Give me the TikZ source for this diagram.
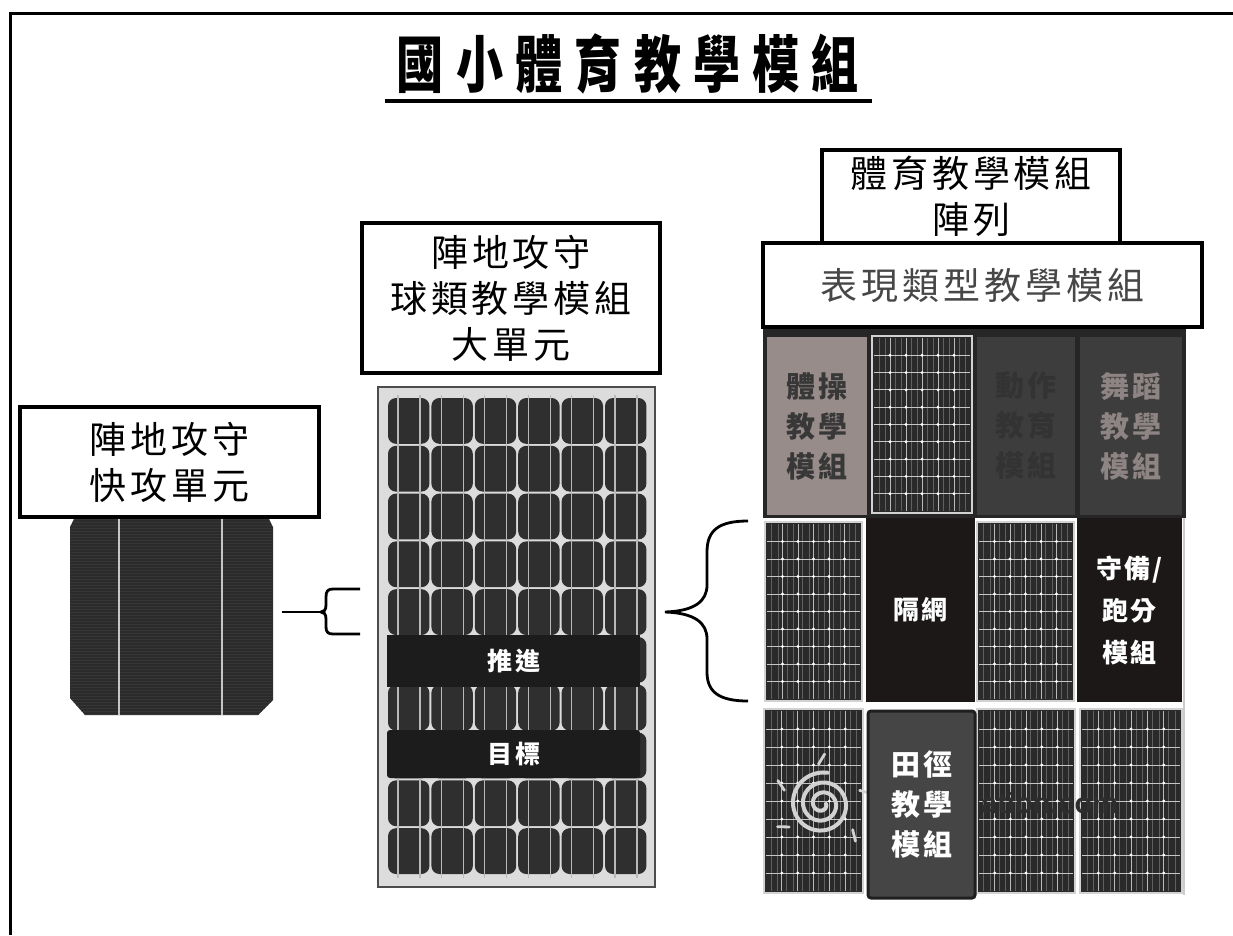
\documentclass[tikz,border=0pt]{standalone}
\usepackage{fontspec}
\usepackage{graphicx}
\newfontfamily\cjk{Noto Sans CJK TC}
\newfontfamily\wmfont{Liberation Sans}
% spread the characters of a short string by a fixed gap
\makeatletter
\newcommand\spaced[2]{\def\spaced@gap{\hspace{#1}}\spaced@go#2\@nil}
\def\spaced@go#1#2\@nil{#1\ifx\relax#2\relax\else\spaced@gap\spaced@go#2\@nil\fi}
\makeatother
\definecolor{cellfill}{HTML}{2B2B2B}
\definecolor{cellline}{HTML}{363636}
\definecolor{panelframe}{HTML}{DCDCDC}
\definecolor{pcellfill}{HTML}{2F2F2F}
\definecolor{barfill}{HTML}{1C1C1C}
\definecolor{tanfill}{HTML}{978C89}
\definecolor{darkfill}{HTML}{3D3D3D}
\definecolor{blackfill}{HTML}{1C1818}
\definecolor{trackfill}{HTML}{454545}
\definecolor{minibg}{HTML}{2A2A2A}
\definecolor{dancetext}{HTML}{8E8484}

% small solar panel tile: x1 y1 x2 y2
\newcommand\minipanel[4]{%
  \fill[minibg] (#1,#2) rectangle (#3,#4);
  \pgfmathsetmacro\mpw{(#3-#1-4)/6}%
  \pgfmathsetmacro\mph{(#4-#2-4)/10}%
  \foreach \i in {0,...,5}{\foreach \f in {0.3,0.7}{\draw[draw=gray!75!black, line width=0.5pt] ({#1+2+(\i+\f)*\mpw},{#2+2}) -- ({#1+2+(\i+\f)*\mpw},{#4-2});}}
  \foreach \i in {1,...,5}{\draw[draw=gray!55, line width=0.7pt] ({#1+2+\i*\mpw},{#2+2}) -- ({#1+2+\i*\mpw},{#4-2});}
  \foreach \j in {1,...,9}{\draw[draw=gray!45, line width=0.9pt] ({#1+2},{#2+2+\j*\mph}) -- ({#3-2},{#2+2+\j*\mph});}
  \foreach \i in {1,...,5}{\foreach \j in {1,...,9}{\fill[white] ({#1+2+\i*\mpw},{#2+2+\j*\mph}) circle (1.6);}}
  \draw[draw=gray!35, line width=1.4pt] (#1,#2) rectangle (#3,#4);
}

\begin{document}
\begin{tikzpicture}[x=1pt,y=-1pt,
  labelbox/.style={draw=black, line width=3.5pt, fill=white, inner sep=0pt, align=center,
    font=\cjk\fontsize{37}{46}\selectfont},
  barlabel/.style={fill=barfill, inner sep=0pt, text=white,
    font=\cjk\bfseries\fontsize{25}{30}\selectfont},
  tilelabel/.style={inner sep=0pt, align=center, font=\cjk\bfseries\fontsize{29}{40}\selectfont},
  frameline/.style={line width=3pt, draw=black},
  bracestroke/.style={line width=2.8pt, draw=black}]
\useasboundingbox (0,0) rectangle (1233,935);
\fill[white] (0,0) rectangle (1233,935);

% outer frame (open to the right and bottom)
\draw[frameline] (10,935) -- (10,13) -- (1233,13);

% title
\node (title) at (628,64) {\cjk\bfseries\fontsize{62}{70}\selectfont\scalebox{0.76}[1]{\spaced{16pt}{國小體育教學模組}}};
\draw[line width=4pt] (385,101) -- (872,101);

% ---------- single cell ----------
\begin{scope}
  \clip (75,517) -- (268,517) -- (273,527) -- (273,700) -- (258,715) -- (85,715) -- (70,698) -- (70,527) -- cycle;
  \fill[cellfill] (60,510) rectangle (280,720);
  \foreach \yy in {519,522,...,714}{\draw[cellline, line width=0.6pt] (70,\yy) -- (273,\yy);}
\end{scope}
\draw[draw=gray!45, line width=2.4pt] (119,518) -- (119,715);
\draw[draw=gray!45, line width=2.4pt] (222,518) -- (222,715);

\node[labelbox, minimum width=299pt, minimum height=110pt] (quick) at (169.5,462)
  {\spaced{4pt}{陣地攻守}\\\spaced{4pt}{快攻單元}};

% bracket from the cell to the panel
\coordinate (linkA) at (282,612);
\coordinate (braceTipL) at (321,612);
\draw[bracestroke] (linkA) -- (braceTipL);
\draw[bracestroke] (360,589) -- (333,589) .. controls (328,589) and (326,591) .. (326,597) -- (326,605)
  .. controls (326,610) and (324,612) .. (braceTipL)
  .. controls (324,612) and (326,614) .. (326,619) -- (326,627)
  .. controls (326,632) and (328,634) .. (333,634) -- (360,634);

% ---------- panel ----------
\node[labelbox, minimum width=298pt, minimum height=150pt] (ball) at (511,298)
  {\spaced{4pt}{陣地攻守}\\\spaced{4pt}{球類教學模組}\\\spaced{4pt}{大單元}};

\node[draw=black!70, line width=2pt, fill=panelframe, minimum width=277pt, minimum height=500pt, inner sep=0pt] (panel) at (516.5,637) {};
\foreach \i in {0,...,5}{
  \foreach \j in {0,...,9}{
    \fill[pcellfill, rounded corners=8pt] ({388+\i*43.4},{398+\j*47.8}) rectangle ++(41.4,45.8);
  }
  \foreach \f in {11,33}{
    \draw[draw=gray!55, line width=1.1pt] ({387+\i*43.4+\f},395) -- ({387+\i*43.4+\f},878);
  }
}
\node[barlabel, minimum width=253pt, minimum height=52pt] (push) at (513.5,661) {\spaced{3pt}{推進}};
\node[barlabel, minimum width=253pt, minimum height=48pt, rounded corners=3pt] (goal) at (513.5,754) {\spaced{3pt}{目標}};

% bracket from the panel to the array
\coordinate (braceTipR) at (665,612);
\draw[bracestroke] (748,521) .. controls (719,521) and (707,530) .. (707,552) -- (707,585)
  .. controls (707,601) and (695,611) .. (braceTipR)
  .. controls (695,613) and (707,623) .. (707,639) -- (707,672)
  .. controls (707,692) and (719,701) .. (748,701);

% ---------- array ----------
\node[labelbox, minimum width=298pt, minimum height=93pt] (array) at (971,196.5)
  {\spaced{4pt}{體育教學模組}\\\spaced{4pt}{陣列}};

\fill[black!85] (763,327) rectangle (1186,518);
\node[labelbox, minimum width=439pt, minimum height=84pt, text=black!72] (perf) at (982.5,285)
  {\spaced{4pt}{表現類型教學模組}};

% row 1
\node[tilelabel, fill=tanfill, text=black!78, minimum width=100pt, minimum height=178pt] (gym) at (817,426)
  {\spaced{3pt}{體操}\\\spaced{3pt}{教學}\\\spaced{3pt}{模組}};
\minipanel{872}{336}{972}{513}
\node[tilelabel, fill=darkfill, text=black!80, minimum width=98pt, minimum height=178pt] (move) at (1026,426)
  {\spaced{3pt}{動作}\\\spaced{3pt}{教育}\\\spaced{3pt}{模組}};
\node[tilelabel, fill=darkfill, text=dancetext, minimum width=102pt, minimum height=178pt] (dance) at (1131,426)
  {\spaced{3pt}{舞蹈}\\\spaced{3pt}{教學}\\\spaced{3pt}{模組}};

% row 2
\minipanel{765}{522}{862}{701}
\node[tilelabel, fill=blackfill, text=white, minimum width=109pt, minimum height=184pt,
  font=\cjk\bfseries\fontsize{26}{42}\selectfont] (net) at (920.5,610) {\spaced{2pt}{隔網}};
\minipanel{977}{522}{1074}{701}
\node[tilelabel, fill=blackfill, text=white, minimum width=105pt, minimum height=184pt,
  font=\cjk\bfseries\fontsize{26}{42}\selectfont] (defend) at (1129.5,610)
  {\spaced{2pt}{守備/}\\\spaced{2pt}{跑分}\\\spaced{2pt}{模組}};

% row 3
\minipanel{764}{709}{863}{893}
\minipanel{977}{709}{1075}{893}
\minipanel{1080}{709}{1182}{893}
\draw[draw=gray!40, line width=1.2pt] (1184,518) -- (1184,895);

% watermark swirl and text over the tiles
\draw[draw=gray!35, line width=4pt, line cap=round]
  plot[domain=0:1000, samples=120, smooth] ({822+(4+\x/36)*cos(\x)}, {804+(4+\x/36)*sin(\x)});
\foreach \a in {-95,-160,-20,145,40}{
  \draw[draw=gray!35, line width=2.8pt, line cap=round] ({822+40*cos(\a)},{804+40*sin(\a)}) -- ({822+50*cos(\a+8)},{804+50*sin(\a+8)});
}
\node[anchor=west, inner sep=0pt, text=black!82, font=\wmfont\bfseries\fontsize{29}{30}\selectfont] (wm) at (981,803) {ation.com};

\node[tilelabel, fill=trackfill, draw=black!88, line width=3pt, rounded corners=3pt, text=white,
  minimum width=107pt, minimum height=187pt] (track) at (921.5,804.5)
  {\spaced{3pt}{田徑}\\\spaced{3pt}{教學}\\\spaced{3pt}{模組}};
\end{tikzpicture}
\end{document}
